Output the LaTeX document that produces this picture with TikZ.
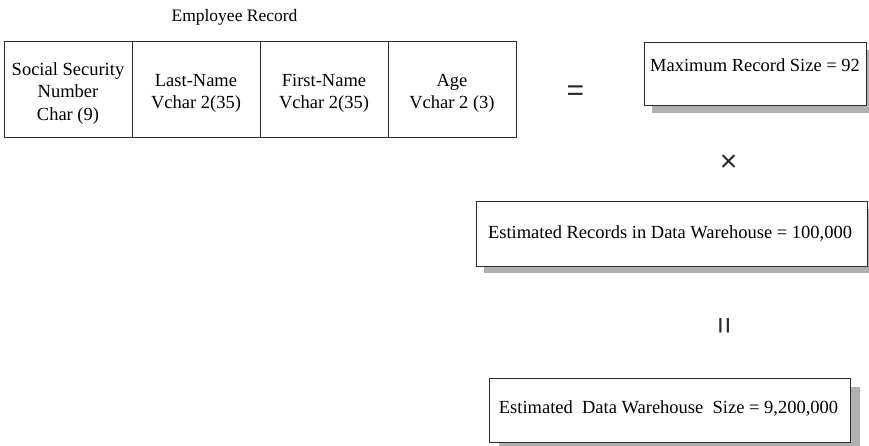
\documentclass[tikz,border=0pt]{standalone}
\usepackage{fontspec}
\setmainfont{Liberation Serif}
\newfontfamily\symfont{Liberation Sans}
\usetikzlibrary{shadows}
\definecolor{edge}{HTML}{2A2A2A}
\definecolor{shade}{HTML}{B0B0B0}
\begin{document}
\begin{tikzpicture}[x=1pt,y=-1pt,
  every node/.style={font=\fontsize{18.5}{22.5}\selectfont, text=black},
  cell/.style={draw=edge, line width=1pt, minimum width=128pt, minimum height=96pt, inner sep=0pt, anchor=center},
  celltext/.style={align=center, inner sep=0pt, anchor=center},
  sbox/.style={draw=edge, line width=1pt, fill=white, inner sep=0pt, anchor=center},
  opsym/.style={font=\symfont\fontsize{30}{30}\selectfont, text=edge, inner sep=0pt}]
\useasboundingbox (0,0) rectangle (869,446);
\clip (0,0) rectangle (869,446);
\node[font=\fontsize{17.5}{20}\selectfont] (title) at (234.5,17) {Employee Record};
\node[cell] (ssn) at (68,90) {};
\node[cell] (ln) at (196,90) {};
\node[cell] (fn) at (324,90) {};
\node[cell] (age) at (452,90) {};
\node[celltext] (ssnt) at (68,93.5) {Social Security\\Number\\Char (9)};
\node[celltext] (lnt) at (196,93.5) {Last-Name\\Vchar 2(35)};
\node[celltext] (fnt) at (324,93.5) {First-Name\\Vchar 2(35)};
\node[celltext] (aget) at (452,93.5) {Age\\Vchar 2 (3)};
\node[opsym] (eq) at (575.5,93.5) {=};
\node[sbox, minimum width=222pt, minimum height=63pt,
  drop shadow={shadow xshift=8pt, shadow yshift=-7pt, fill=shade, opacity=1}] (b1) at (755,74.5) {};
\node (t1) at (755,65) {Maximum Record Size = 92};
\node[opsym] (times) at (728.5,163.5) {×};
\node[sbox, minimum width=391pt, minimum height=64pt,
  drop shadow={shadow xshift=8pt, shadow yshift=-7pt, fill=shade, opacity=1}] (b2) at (671.5,234) {};
\node (t2) at (670,234) {Estimated Records in Data Warehouse = 100,000};
\node[opsym, rotate=90] (eq2) at (727.5,325.5) {=};
\node[sbox, minimum width=361pt, minimum height=64pt,
  drop shadow={shadow xshift=10pt, shadow yshift=-9pt, fill=shade, opacity=1}] (b3) at (669.5,410) {};
\node (t3) at (668.5,409) {Estimated\ \ Data Warehouse\ \ Size = 9,200,000};
\end{tikzpicture}
\end{document}
